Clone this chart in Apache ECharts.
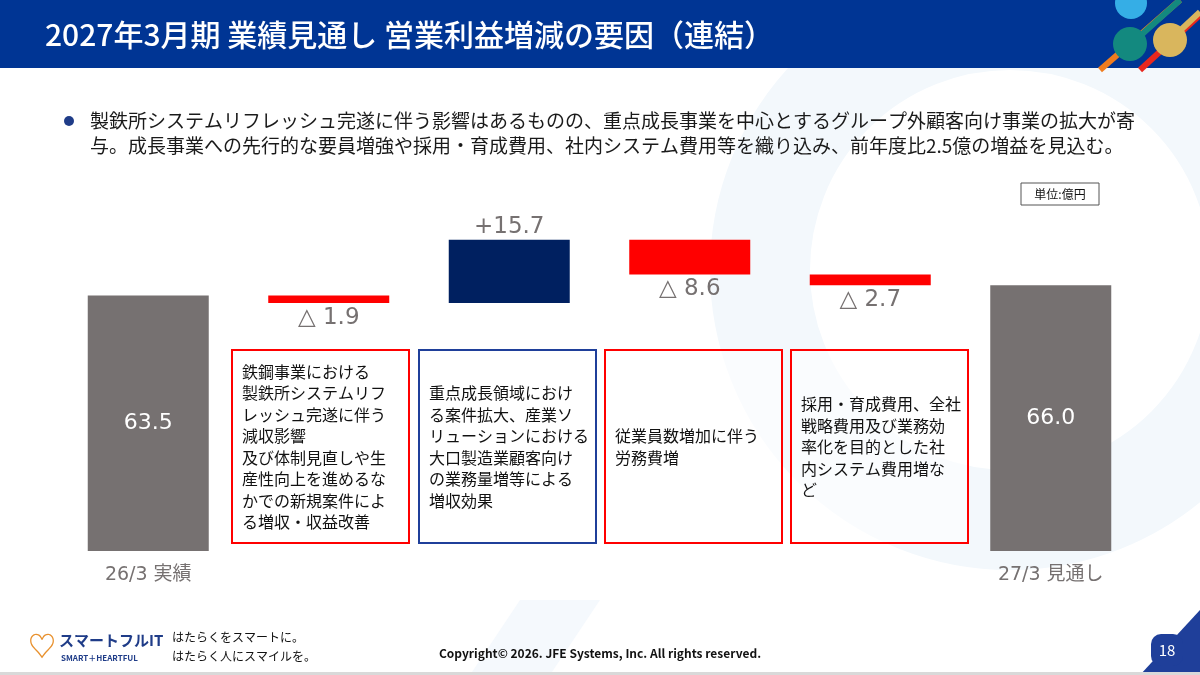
<!DOCTYPE html>
<html>
<head>
<meta charset="utf-8">
<script src="https://cdn.jsdelivr.net/npm/echarts@6/dist/echarts.min.js"></script>
<style>
  html, body { margin: 0; padding: 0; background: #fff; }
  #main { width: 1200px; height: 675px; }
</style>
</head>
<body>
<div id="main"></div>
<script>
const FONT = '"Noto Sans CJK JP", "Noto Sans", sans-serif';
const NUM_FONT = '"DejaVu Sans", "Noto Sans CJK JP", sans-serif';

// waterfall: totals at both ends, deltas in between
const categories = ['26/3 実績', '鉄鋼事業', '重点成長領域', '労務費', '社内システム等', '27/3 見通し'];
const shownLabels = ['26/3 実績', '27/3 見通し'];
const barValues = [63.5, -1.9, 15.7, -8.6, -2.7, 66.0];
const isTotal = [true, false, false, false, false, true];
const valueLabels = ['63.5', '△ 1.9', '+15.7', '△ 8.6', '△ 2.7', '66.0'];

const boxTexts = [
  '鉄鋼事業における\n製鉄所システムリフ\nレッシュ完遂に伴う\n減収影響\n及び体制見直しや生\n産性向上を進めるな\nかでの新規案件によ\nる増収・収益改善',
  '重点成長領域におけ\nる案件拡大、産業ソ\nリューションにおける\n大口製造業顧客向け\nの業務量増等による\n増収効果',
  '従業員数増加に伴う\n労務費増',
  '採用・育成費用、全社\n戦略費用及び業務効\n率化を目的とした社\n内システム費用増な\nど'
];
const boxColors = ['#ff0000', '#1f3f9a', '#ff0000', '#ff0000'];

// build stacked helper series
const baseData = [];
const totalData = [];
const upData = [];
const downData = [];
let running = 0;
barValues.forEach((v, i) => {
  if (isTotal[i]) {
    baseData.push(0);
    totalData.push(v);
    upData.push('-');
    downData.push('-');
    running = v;
  } else if (v >= 0) {
    baseData.push(running);
    upData.push(v);
    totalData.push('-');
    downData.push('-');
    running += v;
  } else {
    running += v;
    baseData.push(running);
    downData.push(-v);
    totalData.push('-');
    upData.push('-');
  }
});

const labelFmt = (p) => valueLabels[p.dataIndex];
const greyLabel = { color: '#767171', fontSize: 23, fontFamily: NUM_FONT };

const chart = echarts.init(document.getElementById('main'));

const boxLeft = [232, 419, 605, 791];
const boxGraphics = [];
boxTexts.forEach((t, i) => {
  boxGraphics.push({
    type: 'rect', shape: { x: boxLeft[i], y: 350, width: 177, height: 193 },
    style: { fill: 'rgba(255,255,255,0.6)', stroke: boxColors[i], lineWidth: 2 }, z: 5
  });
  boxGraphics.push({
    type: 'text', x: boxLeft[i] + 10, y: 447,
    style: {
      text: t, fill: '#111', font: '16px ' + FONT, lineHeight: 21.5,
      verticalAlign: 'middle', align: 'left'
    }, z: 6
  });
});

chart.setOption({
  animation: false,
  backgroundColor: '#ffffff',
  grid: { left: 58, right: 59, top: 229, bottom: 124 },
  xAxis: {
    type: 'category',
    data: categories,
    axisLine: { show: false },
    axisTick: { show: false },
    axisLabel: {
      color: '#767171', fontSize: 19, fontFamily: NUM_FONT, margin: 15, interval: 0,
      formatter: (v) => (shownLabels.indexOf(v) >= 0 ? v : '')
    }
  },
  yAxis: {
    type: 'value', min: 0, max: 80, show: false,
    splitLine: { show: false }
  },
  series: [
    {
      type: 'bar', stack: 'wf', barWidth: 121, data: baseData,
      itemStyle: { color: 'transparent' }, silent: true
    },
    {
      type: 'bar', stack: 'wf', barWidth: 121, data: totalData,
      itemStyle: { color: '#767171' },
      label: { show: true, position: 'inside', color: '#fff', fontSize: 22, fontFamily: NUM_FONT, formatter: labelFmt }
    },
    {
      type: 'bar', stack: 'wf', barWidth: 121, data: upData,
      itemStyle: { color: '#002060' },
      label: Object.assign({ show: true, position: 'top', distance: 1, formatter: labelFmt }, greyLabel)
    },
    {
      type: 'bar', stack: 'wf', barWidth: 121, data: downData,
      itemStyle: { color: '#ff0000' },
      label: Object.assign({ show: true, position: 'bottom', distance: 3, formatter: labelFmt }, greyLabel)
    }
  ],
  graphic: [
    // faint background swoosh
    { type: 'circle', shape: { cx: 1010, cy: 270, r: 250 }, style: { fill: 'none', stroke: '#f3f8fc', lineWidth: 100 }, z: -10, silent: true },
    { type: 'polygon', shape: { points: [[470, 675], [520, 600], [600, 600], [550, 675]] }, style: { fill: '#f5f9fd' }, z: -10, silent: true },
    // header band
    { type: 'rect', shape: { x: 0, y: 0, width: 1200, height: 68 }, style: { fill: '#003594' }, z: 1 },
    { type: 'text', x: 45, y: 35, style: { text: '2027年3月期 業績見通し 営業利益増減の要因（連結）', fill: '#fff', font: '500 30px ' + FONT, verticalAlign: 'middle' }, z: 2 },
    // header decoration
    { type: 'line', shape: { x1: 1100, y1: 70, x2: 1180, y2: 0 }, style: { stroke: '#f07c1e', lineWidth: 6 }, z: 2 },
    { type: 'line', shape: { x1: 1140, y1: 70, x2: 1200, y2: 15 }, style: { stroke: '#e8281e', lineWidth: 6 }, z: 2 },
    { type: 'line', shape: { x1: 1130, y1: 45, x2: 1180, y2: 0 }, style: { stroke: '#13897f', lineWidth: 6 }, z: 2 },
    { type: 'line', shape: { x1: 1170, y1: 40, x2: 1200, y2: 12 }, style: { stroke: '#d9b65d', lineWidth: 6 }, z: 2 },
    { type: 'circle', shape: { cx: 1131, cy: 3, r: 16 }, style: { fill: '#35aee6' }, z: 3 },
    { type: 'circle', shape: { cx: 1130, cy: 44, r: 17 }, style: { fill: '#13897f' }, z: 3 },
    { type: 'circle', shape: { cx: 1170, cy: 40, r: 17 }, style: { fill: '#d9b65d' }, z: 3 },
    // bullet text
    { type: 'circle', shape: { cx: 69, cy: 121, r: 5 }, style: { fill: '#1f3c88' }, z: 2 },
    { type: 'text', x: 90, y: 121, style: { text: '製鉄所システムリフレッシュ完遂に伴う影響はあるものの、重点成長事業を中心とするグループ外顧客向け事業の拡大が寄', fill: '#1a1a1a', font: '19px ' + FONT, verticalAlign: 'middle' }, z: 2 },
    { type: 'text', x: 90, y: 146, style: { text: '与。成長事業への先行的な要員増強や採用・育成費用、社内システム費用等を織り込み、前年度比2.5億の増益を見込む。', fill: '#1a1a1a', font: '19px ' + FONT, verticalAlign: 'middle' }, z: 2 },
    // unit box
    { type: 'rect', shape: { x: 1021, y: 183, width: 78, height: 22 }, style: { fill: '#fff', stroke: '#555', lineWidth: 1 }, z: 2 },
    { type: 'text', x: 1060, y: 194, style: { text: '単位:億円', fill: '#111', font: '12px ' + FONT, align: 'center', verticalAlign: 'middle' }, z: 3 },
    ...boxGraphics,
    // footer
    { type: 'text', x: 28, y: 646, style: { text: '♡', fill: '#e8912e', font: 'bold 28px ' + FONT, verticalAlign: 'middle' }, z: 2 },
    { type: 'text', x: 59, y: 640, style: { text: 'スマートフルIT', fill: '#1f3c88', font: 'bold 15px ' + FONT, verticalAlign: 'middle' }, z: 2 },
    { type: 'text', x: 61, y: 658, style: { text: 'SMART＋HEARTFUL', fill: '#1f3c88', font: 'bold 8px ' + FONT, verticalAlign: 'middle' }, z: 2 },
    { type: 'text', x: 172, y: 637, style: { text: 'はたらくをスマートに。', fill: '#111', font: '12px ' + FONT, verticalAlign: 'middle' }, z: 2 },
    { type: 'text', x: 172, y: 656, style: { text: 'はたらく人にスマイルを。', fill: '#111', font: '12px ' + FONT, verticalAlign: 'middle' }, z: 2 },
    { type: 'text', x: 600, y: 653, style: { text: 'Copyright© 2026. JFE Systems, Inc. All rights reserved.', fill: '#111', font: 'bold 12px ' + FONT, align: 'center', verticalAlign: 'middle' }, z: 2 },
    { type: 'polygon', shape: { points: [[1140, 675], [1200, 610], [1200, 675]] }, style: { fill: '#1f3f9a' }, z: 2 },
    { type: 'rect', shape: { x: 1151, y: 634, width: 32, height: 32, r: 10 }, style: { fill: '#1f3f9a' }, z: 2 },
    { type: 'text', x: 1167, y: 650, style: { text: '18', fill: '#fff', font: '15px ' + FONT, align: 'center', verticalAlign: 'middle' }, z: 3 },
    { type: 'rect', shape: { x: 0, y: 672, width: 1200, height: 3 }, style: { fill: '#d9d9d9' }, z: 2 }
  ]
});
</script>
</body>
</html>
